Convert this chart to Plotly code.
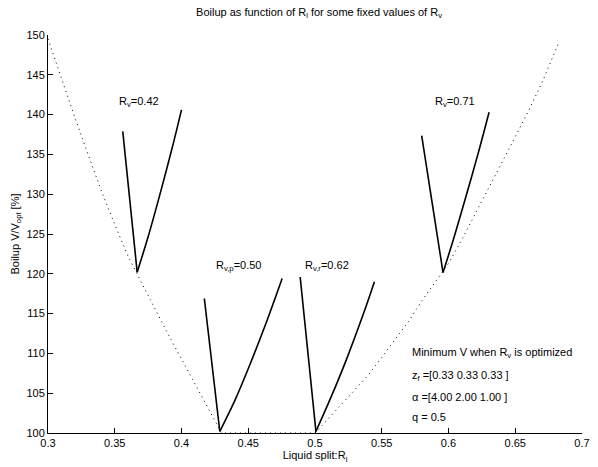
import plotly.graph_objects as go

# Dotted curve: minimum V when Rv is optimized
min_x = [0.30, 0.31, 0.32, 0.33, 0.34, 0.35, 0.36, 0.37, 0.38, 0.39, 0.40, 0.41, 0.42, 0.43,
         0.44, 0.45, 0.46, 0.47, 0.48, 0.49, 0.50,
         0.51, 0.52, 0.53, 0.54, 0.55, 0.56, 0.57, 0.58, 0.59, 0.60, 0.61, 0.62, 0.63,
         0.64, 0.65, 0.66, 0.67, 0.68, 0.682]
min_y = [149.5, 144.5, 139.7, 135.0, 130.4, 126.2, 122.2, 118.9, 115.6, 112.4, 109.3, 106.2, 103.1, 100.0,
         100.0, 100.0, 100.0, 100.0, 100.0, 100.0, 100.0,
         101.8, 103.6, 105.4, 107.3, 109.5, 111.7, 114.0, 116.6, 118.9, 121.3, 124.3, 127.5, 130.8,
         133.8, 137.2, 140.5, 144.0, 148.0, 148.8]

# Fixed Rv curves: left (steep) branch and right (curved) branch
rv042_left_x = [0.356, 0.3668]
rv042_left_y = [137.9, 120.2]
rv042_right_x = [0.3668, 0.375, 0.385, 0.393, 0.400]
rv042_right_y = [120.2, 124.65, 130.7, 135.8, 140.6]

rv050_left_x = [0.4171, 0.4287]
rv050_left_y = [116.9, 100.2]
rv050_right_x = [0.4287, 0.440, 0.4515, 0.464, 0.4754]
rv050_right_y = [100.2, 104.1, 108.7, 114.1, 119.4]

rv062_left_x = [0.4889, 0.5007]
rv062_left_y = [119.6, 100.2]
rv062_right_x = [0.5007, 0.512, 0.523, 0.5376, 0.5445]
rv062_right_y = [100.2, 104.5, 109.0, 115.6, 119.0]

rv071_left_x = [0.5799, 0.5959]
rv071_left_y = [137.35, 120.15]
rv071_right_x = [0.5959, 0.604, 0.6127, 0.622, 0.6304]
rv071_right_y = [120.15, 124.5, 129.5, 135.0, 140.3]

x_ticks = [0.3, 0.35, 0.4, 0.45, 0.5, 0.55, 0.6, 0.65, 0.7]
x_ticklabels = ["0.3", "0.35", "0.4", "0.45", "0.5", "0.55", "0.6", "0.65", "0.7"]
y_ticks = [100, 105, 110, 115, 120, 125, 130, 135, 140, 145, 150]

labels = [
    (0.368, 141.6, "R<sub>v</sub>=0.42"),
    (0.4424, 121.0, "R<sub>v,p</sub>=0.50"),
    (0.5089, 121.0, "R<sub>v,r</sub>=0.62"),
    (0.6048, 141.6, "R<sub>v</sub>=0.71"),
]
info_x = 0.5708
info_lines = [
    (110.0, "Minimum V when R<sub>v</sub> is optimized"),
    (107.1, "z<sub>f</sub> =[0.33 0.33 0.33 ]"),
    (104.5, "α =[4.00 2.00 1.00 ]"),
    (102.0, "q = 0.5"),
]

fig = go.Figure()
fig.add_trace(go.Scatter(x=min_x, y=min_y, mode="lines",
                         line=dict(color="black", width=1, dash="1px,4px"),
                         showlegend=False, hoverinfo="skip"))
branches = [
    (rv042_left_x, rv042_left_y, "linear"), (rv042_right_x, rv042_right_y, "spline"),
    (rv050_left_x, rv050_left_y, "linear"), (rv050_right_x, rv050_right_y, "spline"),
    (rv062_left_x, rv062_left_y, "linear"), (rv062_right_x, rv062_right_y, "spline"),
    (rv071_left_x, rv071_left_y, "linear"), (rv071_right_x, rv071_right_y, "spline"),
]
for xs, ys, shape in branches:
    fig.add_trace(go.Scatter(x=xs, y=ys, mode="lines",
                             line=dict(color="black", width=1.6, shape=shape, smoothing=0.8),
                             showlegend=False, hoverinfo="skip"))

font = dict(family="Liberation Sans, Arial, sans-serif", size=11, color="black")
annotations = []
for x, y, t in labels:
    annotations.append(dict(x=x, y=y, xref="x", yref="y", text=t, showarrow=False,
                            font=font, xanchor="center", yanchor="middle"))
for y, t in info_lines:
    annotations.append(dict(x=info_x, y=y, xref="x", yref="y", text=t, showarrow=False,
                            font=font, xanchor="left", yanchor="middle"))

fig.update_layout(
    width=598, height=467,
    margin=dict(l=48, r=8, t=35, b=30),
    paper_bgcolor="white", plot_bgcolor="white",
    font=font,
    showlegend=False,
    title=dict(text="Boilup as function of R<sub>l</sub> for some fixed values of R<sub>v</sub>",
               x=0.5335, xanchor="center", y=0.975, yanchor="middle", font=font),
    annotations=annotations,
    xaxis=dict(range=[0.3, 0.7], tickvals=x_ticks, ticktext=x_ticklabels,
               showgrid=False, zeroline=False, showline=True, linecolor="black", linewidth=1,
               ticks="inside", ticklen=5, tickcolor="black", mirror=False,
               title=dict(text="Liquid split:R<sub>l</sub>", standoff=2, font=font)),
    yaxis=dict(range=[100, 150], tickvals=y_ticks,
               showgrid=False, zeroline=False, showline=True, linecolor="black", linewidth=1,
               ticks="inside", ticklen=5, tickcolor="black", mirror=False,
               title=dict(text="Boilup V/V<sub>opt</sub> [%]", standoff=4, font=font)),
)

fig.write_html("out.html")
